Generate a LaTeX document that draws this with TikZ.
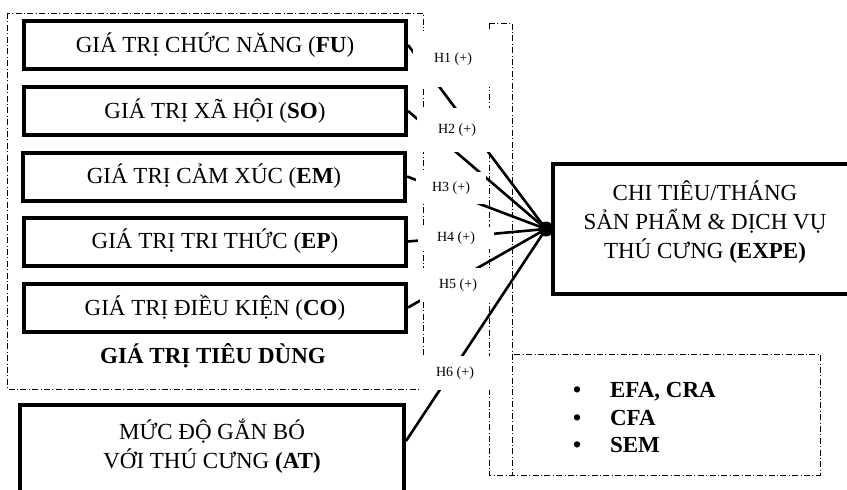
\documentclass[tikz,border=0pt]{standalone}
\usepackage{fontspec}
\setmainfont{Liberation Serif}
\usetikzlibrary{calc}

\tikzset{
  valbox/.style={draw, line width=2pt, minimum width=191pt, minimum height=24pt,
    inner sep=0pt, font=\fontsize{11.5}{14}\selectfont},
  bigbox/.style={draw, line width=2pt, align=center, inner sep=0pt,
    font=\fontsize{11.5}{14.5}\selectfont},
  dashframe/.style={line width=0.5pt, dash pattern=on 3pt off 1.2pt on 0.5pt off 1.2pt},
  conn/.style={line width=1.3pt},
  hyp/.style={fill=white, inner sep=0pt, font=\fontsize{7}{8}\selectfont}
}

\begin{document}
\begin{tikzpicture}[x=0.5pt,y=-0.5pt]

\useasboundingbox (0,0) rectangle (847,489);

\draw[dashframe] (7,13) rectangle (423,389);
\draw[dashframe] (489,23) rectangle (512,475);
\draw[dashframe] (512,354) rectangle (820,475);

\node[valbox] (fu) at (215,45) {GIÁ TRỊ CHỨC NĂNG (\textbf{FU})};
\node[valbox] (so) at (215,111) {GIÁ TRỊ XÃ HỘI (\textbf{SO})};
\node[valbox] (em) at (214,176.5) {GIÁ TRỊ CẢM XÚC (\textbf{EM})};
\node[valbox] (ep) at (215,241.5) {GIÁ TRỊ TRI THỨC (\textbf{EP})};
\node[valbox] (co) at (215,307.5) {GIÁ TRỊ ĐIỀU KIỆN (\textbf{CO})};

\node[font=\bfseries\fontsize{11.5}{14}\selectfont] (tdtitle) at (213,356)
{GIÁ TRỊ TIÊU DÙNG};

\node[bigbox, minimum width=192pt, minimum height=44pt] (at) at (212,449)
{MỨC ĐỘ GẮN BÓ\\VỚI THÚ CƯNG \textbf{(AT)}\rule[-5pt]{0pt}{0pt}};

\node[bigbox, minimum width=152pt, minimum height=64.75pt] (expe) at (705,228.75)
{CHI TIÊU/THÁNG\\SẢN PHẨM \& DỊCH VỤ\\THÚ CƯNG \textbf{(EXPE)}\rule[-9.5pt]{0pt}{0pt}};

\node[circle, fill, inner sep=0pt, minimum size=7.5pt] (hub) at (546,229) {};

\draw[conn] (fu.east) -- (hub.center);
\draw[conn] (so.east) -- (hub.center);
\draw[conn] (em.east) -- (hub.center);
\draw[conn] (ep.east) -- (hub.center);
\draw[conn] (co.east) -- (hub.center);
\draw[conn] ($(at.north east)+(0,38)$) -- (hub.center);

\node[hyp, minimum width=40pt, minimum height=28pt] (h1) at (453,59) {H1 (+)};
\node[hyp, minimum width=40pt, minimum height=22pt] (h2) at (457,130) {H2 (+)};
\node[hyp, minimum width=35pt, minimum height=16pt] (h3) at (451,188) {H3 (+)};
\node[hyp, minimum width=38pt, minimum height=11pt] (h4) at (456,238) {H4 (+)};
\node[hyp, minimum width=38pt, minimum height=17pt] (h5) at (458,285) {H5 (+)};
\node[hyp, minimum width=36pt, minimum height=17pt] (h6) at (455,373) {H6 (+)};

\node[anchor=west, align=left, font=\bfseries\fontsize{11.5}{13.75}\selectfont] (lst)
at (566,417.5)
{\textbullet\hspace{14.5pt}EFA, CRA\\\textbullet\hspace{14.5pt}CFA\\\textbullet\hspace{14.5pt}SEM};

\end{tikzpicture}
\end{document}
